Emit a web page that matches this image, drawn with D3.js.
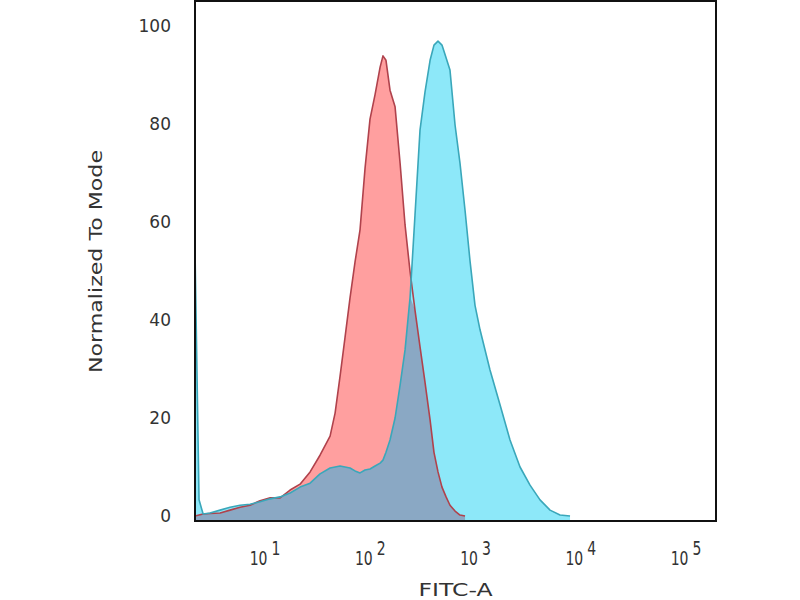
<!DOCTYPE html>
<html>
<head>
<meta charset="utf-8">
<script src="https://cdn.jsdelivr.net/npm/d3@7"></script>
<style>
  html, body { margin: 0; padding: 0; background: #fff; }
  svg { display: block; }
</style>
</head>
<body>
<svg id="chart" width="800" height="600"></svg>
<script>
// FITC-A channel values (shared grid for both histograms)
const fitc = [2.16, 2.36, 2.58, 3.00, 3.74, 4.65, 5.79, 7.20, 8.96, 11.2, 13.9, 17.3, 21.5, 26.8, 33.3, 41.5, 46.3, 51.6, 57.6, 64.2,
  71.6, 79.9, 89.2, 99.4, 111, 124, 132, 141, 154, 172, 192, 214, 239, 266, 297, 331, 370, 403, 440, 480,
  525, 572, 639, 712, 795, 887, 989, 1104, 1373, 1709, 2127, 2648, 3295, 4101, 5104, 6354, 7907, 9837, 15236, 192800];

// Control (red) histogram, normalized to mode
const controlValues = [0, 0.2, 0.4, 0.5, 0.6, 1.2, 1.8, 2.2, 3.1, 3.7, 3.7, 5.3, 6.5, 9.0, 12.4, 16.3, 21, 28.5, 36.5, 44.5,
  51.8, 58.4, 71, 81, 86, 91.6, 93.9, 93, 86.9, 83.5, 72, 59.4, 49.8, 42, 34.5, 27.3, 19.6, 13, 9, 5.9,
  3.9, 2.2, 1, 0.2, 0, 0, 0, 0, 0, 0, 0, 0, 0, 0, 0, 0, 0, 0, 0, 0];

// Stained sample (cyan) histogram, normalized to mode
const sampleValues = [54.3, 3.3, 0.4, 0.6, 1.2, 1.8, 2.2, 2.4, 2.9, 3.5, 3.9, 4.7, 5.9, 6.7, 8.6, 9.8, 10, 10.2, 10, 9.8,
  9.2, 8.8, 9.4, 9.6, 10.2, 10.8, 11.4, 13, 15.5, 20, 26.7, 33.9, 44.7, 61.4, 78.8, 86.5, 93, 96.1, 96.9, 96.1,
  93.5, 91, 79.8, 72, 62.4, 52, 43, 38, 29.8, 22.7, 15.5, 10, 6.3, 3.3, 1.2, 0.2, 0, 0, 0, 0];

const yTicks = [0, 20, 40, 60, 80, 100];
const xTicks = [10, 100, 1000, 10000, 100000];
const xTickExponents = ["1", "2", "3", "4", "5"];

const svg = d3.select("#chart");
const pLeft = 195, pRight = 716, pTop = 1, pBottom = 521;

const x = d3.scaleLog().domain([2.16, 192800]).range([pLeft, pRight]);
const y = d3.scaleLinear().domain([0, 100]).range([516, 26]);

function series(vals) {
  let last = vals.length - 1;
  while (last > 0 && vals[last] === 0) last--;
  const end = Math.min(vals.length, last + 2);
  return fitc.slice(0, end).map((f, i) => ({ x: f, y: vals[i] }));
}
const ctrl = series(controlValues);
const samp = series(sampleValues);
const over = fitc.map((f, i) => ({ x: f, y: Math.min(controlValues[i], sampleValues[i]) }))
  .slice(0, ctrl.length);

svg.append("clipPath").attr("id", "plotclip")
  .append("rect").attr("x", pLeft).attr("y", pTop).attr("width", pRight - pLeft).attr("height", pBottom - pTop);

const area = d3.area().x(d => x(d.x)).y0(y(-1)).y1(d => y(d.y)).curve(d3.curveLinear);
const line = d3.line().x(d => x(d.x)).y(d => y(d.y)).curve(d3.curveLinear);

const g = svg.append("g").attr("clip-path", "url(#plotclip)");
g.append("path").datum(ctrl).attr("d", area).attr("fill", "#ff9f9f");
g.append("path").datum(samp).attr("d", area).attr("fill", "#8de8f9");
g.append("path").datum(over).attr("d", area).attr("fill", "#8aa8c4");
g.append("path").datum(ctrl).attr("d", line).attr("fill", "none")
  .attr("stroke", "#b0424c").attr("stroke-width", 1.6).attr("stroke-linejoin", "round");
g.append("path").datum(samp).attr("d", line).attr("fill", "none")
  .attr("stroke", "#3aa7ba").attr("stroke-width", 1.6).attr("stroke-linejoin", "round");

// frame
svg.append("rect").attr("x", pLeft).attr("y", pTop).attr("width", pRight - pLeft).attr("height", pBottom - pTop)
  .attr("fill", "none").attr("stroke", "#111").attr("stroke-width", 2);

// y tick labels
svg.append("g").selectAll("text").data(yTicks).join("text")
  .attr("x", 171).attr("y", d => y(d))
  .attr("text-anchor", "end").attr("dominant-baseline", "central")
  .attr("font-family", "DejaVu Sans").attr("font-size", 17).attr("fill", "#333")
  .text(d => d);

// x tick labels (10^n)
const xt = svg.append("g").selectAll("text").data(xTicks).join("text")
  .attr("transform", d => `translate(${x(d)},565) scale(1,1.4)`)
  .attr("text-anchor", "middle")
  .attr("font-family", "DejaVu Sans").attr("font-size", 14).attr("fill", "#333");
xt.append("tspan").text("10");
xt.append("tspan").attr("dx", 4).attr("dy", -7).text((d, i) => xTickExponents[i]);

// axis titles
svg.append("text").attr("x", (pLeft + pRight) / 2).attr("y", 596)
  .attr("text-anchor", "middle").attr("font-family", "DejaVu Sans").attr("font-size", 18)
  .attr("fill", "#333").attr("textLength", 74).attr("lengthAdjust", "spacingAndGlyphs")
  .text("FITC-A");

svg.append("text").attr("transform", "translate(102,261.5) rotate(-90)")
  .attr("text-anchor", "middle").attr("font-family", "DejaVu Sans").attr("font-size", 18)
  .attr("fill", "#333").attr("textLength", 223).attr("lengthAdjust", "spacingAndGlyphs")
  .text("Normalized To Mode");
</script>
</body>
</html>
